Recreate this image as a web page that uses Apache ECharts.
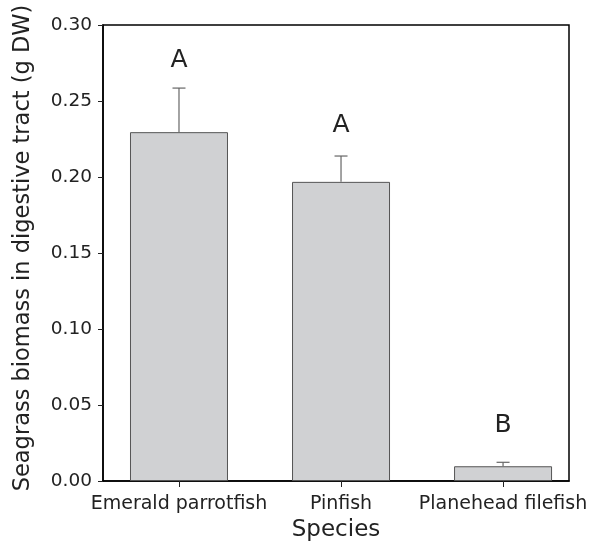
<!DOCTYPE html>
<html>
<head>
<meta charset="utf-8">
<script src="https://cdn.jsdelivr.net/npm/echarts@6/dist/echarts.min.js"></script>
<style>html,body{margin:0;padding:0;background:#fff}#c{width:592px;height:543px}</style>
</head>
<body>
<div id="c"></div>
<script>
const categories = ["Emerald parrotfish", "Pinfish", "Planehead filefish"];
const means = [0.2295, 0.1968, 0.0097];
const errorTops = [0.2585, 0.2138, 0.0123];
const letters = ["A", "A", "B"];
const letterY = [0.2765, 0.234, 0.0368];
const yTicks = [0, 0.05, 0.10, 0.15, 0.20, 0.25, 0.30];

const positions = categories.map((c, i) => i + 1);
const font = '"DejaVu Sans", "Liberation Sans", Arial, sans-serif';

const chart = echarts.init(document.getElementById('c'), null, {renderer: 'canvas'});
chart.setOption({
  animation: false,
  backgroundColor: '#fff',
  grid: {left: 103, top: 25, right: 23, bottom: 62, containLabel: false, outerBoundsMode: 'none',
    show: true, borderColor: '#000', borderWidth: 1.5, backgroundColor: 'transparent'},
  xAxis: {
    type: 'value', min: 0.531, max: 3.407,
    name: 'Species', nameLocation: 'middle', nameGap: 36,
    nameTextStyle: {fontFamily: font, fontSize: 23, color: '#222'},
    axisLine: {show: true, onZero: false, lineStyle: {color: '#000', width: 1.5}},
    axisTick: {show: true, customValues: positions, length: 6, lineStyle: {color: '#222', width: 1}},
    axisLabel: {show: true, customValues: positions, margin: 14, fontFamily: font, fontSize: 19, color: '#222',
      formatter: v => categories[Math.round(v) - 1] || ''},
    splitLine: {show: false}
  },
  yAxis: {
    type: 'value', min: 0, max: 0.3, interval: 0.05,
    name: 'Seagrass biomass in digestive tract (g DW)', nameLocation: 'middle', nameGap: 68, nameRotate: 90,
    nameTextStyle: {fontFamily: font, fontSize: 22.5, color: '#222', padding: [0, 0, 0, 10]},
    axisLine: {show: true, lineStyle: {color: '#000', width: 1.5}},
    axisTick: {show: true, customValues: yTicks, length: 5, lineStyle: {color: '#222', width: 1}},
    axisLabel: {customValues: yTicks, margin: 11, fontFamily: font, fontSize: 18.5, color: '#222', formatter: v => v.toFixed(2)},
    splitLine: {show: false}
  },
  series: [
    {
      type: 'bar', barWidth: 98,
      data: means.map((m, i) => [positions[i], m]),
      itemStyle: {color: '#d0d1d3', borderColor: '#555', borderWidth: 1},
      z: 2
    },
    {
      type: 'custom',
      data: errorTops.map((e, i) => [positions[i], means[i], e]),
      renderItem: (params, api) => {
        const x = api.value(0);
        const base = api.coord([x, api.value(1)]);
        const top = api.coord([x, api.value(2)]);
        const hw = 6.5;
        return {type: 'group', children: [
          {type: 'line', shape: {x1: base[0], y1: base[1], x2: top[0], y2: top[1]}, style: {stroke: '#666', lineWidth: 1.2}},
          {type: 'line', shape: {x1: top[0] - hw, y1: top[1], x2: top[0] + hw, y2: top[1]}, style: {stroke: '#666', lineWidth: 1.2}}
        ]};
      },
      z: 3
    },
    {
      type: 'custom',
      data: letterY.map((y, i) => [positions[i], y]),
      renderItem: (params, api) => {
        const p = api.coord([api.value(0), api.value(1)]);
        return {type: 'text', x: p[0], y: p[1], style: {text: letters[params.dataIndex], fontFamily: font, fontSize: 25, fill: '#222', align: 'center', verticalAlign: 'middle'}};
      },
      z: 4
    }
  ]
});
</script>
</body>
</html>
